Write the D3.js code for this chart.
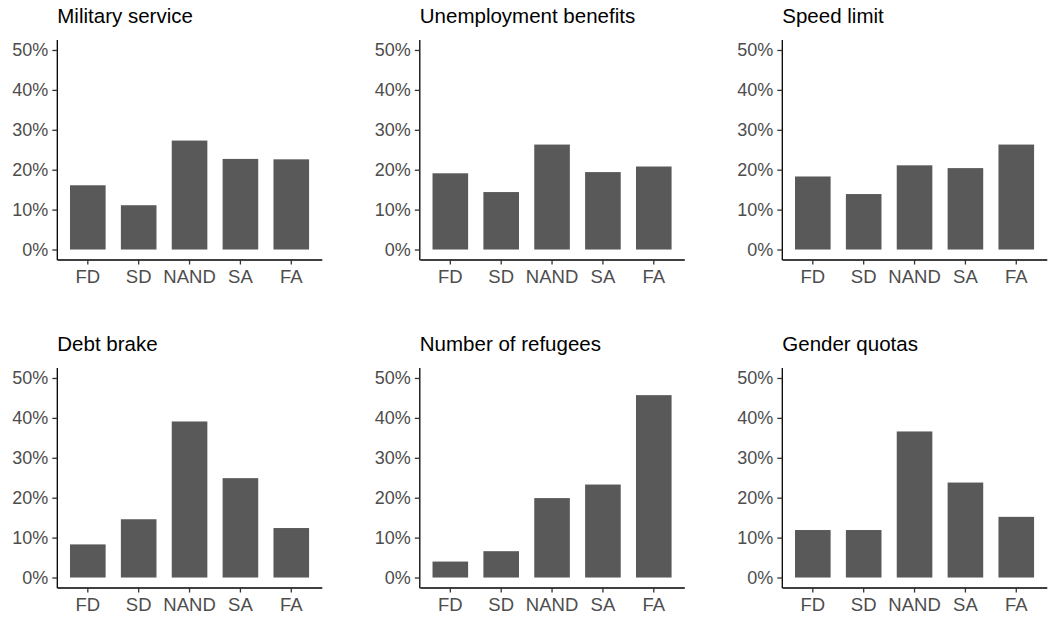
<!DOCTYPE html>
<html>
<head>
<meta charset="utf-8">
<script src="https://cdn.jsdelivr.net/npm/d3@7"></script>
<style>
  html, body { margin: 0; padding: 0; background: #fff; }
  svg { display: block; }
</style>
</head>
<body>
<svg id="chart" width="1049" height="617"></svg>
<script>
const categories = ["FD", "SD", "NAND", "SA", "FA"];
const panelTitles = ["Military service", "Unemployment benefits", "Speed limit",
                     "Debt brake", "Number of refugees", "Gender quotas"];
const militaryService      = [0.161, 0.111, 0.273, 0.227, 0.226];
const unemploymentBenefits = [0.191, 0.144, 0.263, 0.194, 0.208];
const speedLimit           = [0.183, 0.139, 0.211, 0.204, 0.263];
const debtBrake            = [0.083, 0.146, 0.391, 0.249, 0.124];
const numberOfRefugees     = [0.040, 0.066, 0.199, 0.233, 0.457];
const genderQuotas         = [0.119, 0.119, 0.366, 0.238, 0.152];
const yTicks = [0, 0.1, 0.2, 0.3, 0.4, 0.5];

const seriesList = [militaryService, unemploymentBenefits, speedLimit,
                    debtBrake, numberOfRefugees, genderQuotas];

const svg = d3.select("#chart");
svg.append("rect").attr("width", 1049).attr("height", 617).attr("fill", "#fff");

const panelW = 264.5, panelH = 219.5;
const colX = c => 57.3 + c * 362.5;
const rowY = r => 40 + r * 328;
const font = "'Liberation Sans', Arial, Helvetica, sans-serif";

seriesList.forEach((vals, i) => {
  const col = i % 3, row = Math.floor(i / 3);
  const x0 = colX(col), y0 = rowY(row);
  const g = svg.append("g");

  const x = d3.scaleBand().domain(categories)
    .range([x0, x0 + panelW]).paddingInner(0.3).paddingOuter(0.25);
  const y = d3.scaleLinear().domain([-0.025, 0.525]).range([y0 + panelH, y0]);

  g.selectAll("rect.bar").data(categories.map((c, k) => ({c, v: vals[k]})))
    .enter().append("rect").attr("class", "bar")
    .attr("x", d => x(d.c)).attr("width", x.bandwidth())
    .attr("y", d => y(d.v)).attr("height", d => y(0) - y(d.v))
    .attr("fill", "#595959");

  const ya = g.append("g").attr("transform", `translate(${x0},0)`)
    .call(d3.axisLeft(y).tickValues(yTicks).tickFormat(d3.format(".0%"))
      .tickSize(5).tickSizeOuter(0).tickPadding(4));
  const xa = g.append("g").attr("transform", `translate(0,${y0 + panelH})`)
    .call(d3.axisBottom(x).tickSize(5).tickSizeOuter(0).tickPadding(5.5));

  [ya, xa].forEach(a => {
    a.select(".domain").attr("stroke", "#000").attr("stroke-width", 1.3);
    a.selectAll(".tick line").attr("stroke", "#333").attr("stroke-width", 1.3);
    a.selectAll(".tick text").attr("fill", "#4d4d4d")
      .style("font-family", font).style("font-size", "18px");
  });
  xa.selectAll(".tick text").style("font-size", "18.5px");
  // extend the axis lines so they meet at the corner
  ya.select(".domain").attr("d", `M0,${y0 + panelH + 0.65}V${y0}`);

  g.append("text").attr("x", x0).attr("y", y0 - 16.7)
    .attr("fill", "#000").style("font-family", font).style("font-size", "20.5px")
    .text(panelTitles[i]);
});
</script>
</body>
</html>
